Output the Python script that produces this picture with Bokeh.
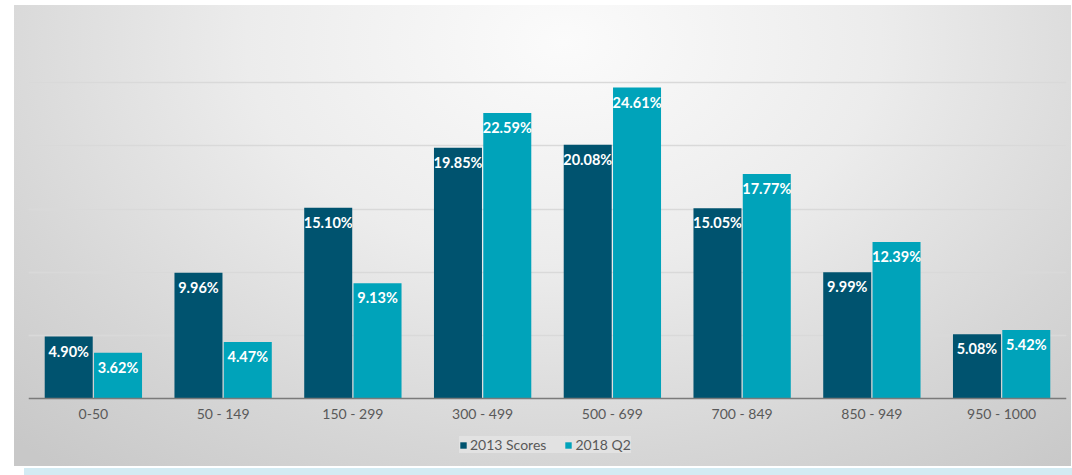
from bokeh.plotting import figure
from bokeh.models import ColumnDataSource, FactorRange, FixedTicker, Legend, LegendItem, CategoricalAxis
from bokeh.transform import dodge
from bokeh.core.properties import value
from bokeh.embed import file_html
from bokeh.resources import INLINE

categories = ["0-50", "50 - 149", "150 - 299", "300 - 499", "500 - 699", "700 - 849", "850 - 949", "950 - 1000"]
scores_2013 = [4.90, 9.96, 15.10, 19.85, 20.08, 15.05, 9.99, 5.08]
scores_2018 = [3.62, 4.47, 9.13, 22.59, 24.61, 17.77, 12.39, 5.42]
series_names = ["2013 Scores", "2018 Q2"]
grid_ticks = [5, 10, 15, 20, 25, 30]

dark = "#00536F"
light = "#00A3BA"
font = "Lato"

src = ColumnDataSource(dict(
    cat=categories,
    a=scores_2013,
    b=scores_2018,
    a_lbl=["%.2f%%" % v for v in scores_2013],
    b_lbl=["%.2f%%" % v for v in scores_2018],
))

# frame spans from the 30% gridline down to the bottom of the grey panel
px_per_unit = 379 / 30.0
y_bottom = -68 / px_per_unit

p = figure(
    x_range=FactorRange(*categories, range_padding=0),
    y_range=(y_bottom, 30),
    width=1072, height=475,
    output_backend="svg", toolbar_location=None,
    min_border_left=28, min_border_right=6, min_border_top=19, min_border_bottom=9,
)
p.styles = {
    "background": (
        "radial-gradient(ellipse 75% 120% at 52% 8%, #fbfbfb 0%, #ececec 40%, #d6d6d6 75%, #c8c8c8 100%) "
        "14px 5px / 1057px 461px no-repeat, "
        "linear-gradient(#d3ebf3, #d3ebf3) 24px 468px / 1048px 7px no-repeat, #ffffff"
    ),
}
p.background_fill_color = None
p.border_fill_color = None
p.outline_line_color = None

r1 = p.vbar(x=dodge("cat", -0.19, range=p.x_range), top="a", width=0.37, source=src,
            fill_color=dark, line_color=None)
r2 = p.vbar(x=dodge("cat", 0.19, range=p.x_range), top="b", width=0.37, source=src,
            fill_color=light, line_color=None)

for col, off in (("a", -0.19), ("b", 0.19)):
    p.text(x=dodge("cat", off, range=p.x_range), y=col, text=col + "_lbl", source=src,
           text_align="center", text_baseline="top", y_offset=6,
           text_color="white", text_font=value(font), text_font_style="bold",
           text_font_size="14.5px")

p.yaxis.visible = False
p.xaxis.visible = False
p.ygrid.ticker = FixedTicker(ticks=grid_ticks)
p.ygrid.grid_line_color = "#d9d9d9"
p.ygrid.grid_line_width = 1.5
p.xgrid.grid_line_color = None

ax = CategoricalAxis(fixed_location=0)
ax.axis_line_color = "#7a7a7a"
ax.axis_line_width = 1.5
ax.major_tick_line_color = None
ax.minor_tick_line_color = None
ax.major_tick_out = 0
ax.major_tick_in = 0
ax.major_label_standoff = -23
ax.major_label_text_font = font
ax.major_label_text_font_size = "14px"
ax.major_label_text_color = "#595959"
p.add_layout(ax, "above")

legend = Legend(
    items=[LegendItem(label=series_names[0], renderers=[r1]),
           LegendItem(label=series_names[1], renderers=[r2])],
    orientation="horizontal",
    location=(431, 13),
    background_fill_color="#e9e9e9", background_fill_alpha=0.6,
    border_line_color=None,
    label_text_font=font, label_text_font_size="14px", label_text_color="#595959",
    glyph_width=8, glyph_height=8, label_standoff=3, spacing=18,
    padding=10, margin=0,
)
p.add_layout(legend, "center")

open("out.html", "w").write(file_html(p, INLINE))
